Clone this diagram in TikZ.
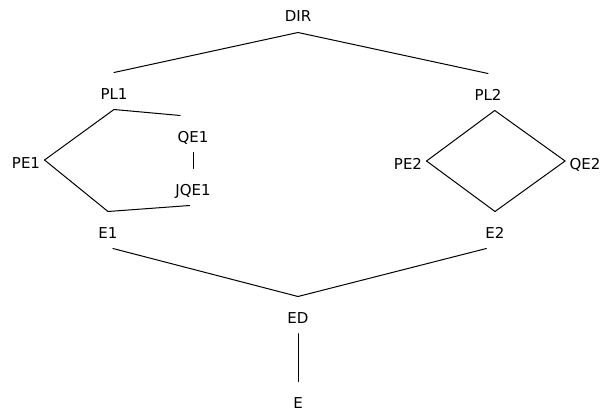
\documentclass[tikz,border=0pt]{standalone}
\usepackage{fontspec}
\setmainfont{DejaVu Sans}
\begin{document}
\begin{tikzpicture}[x=1pt,y=-1pt,line width=1pt,line cap=round,
	font=\fontsize{15}{18}\selectfont,
	elem/.style={anchor=base,inner xsep=4pt,inner ysep=0pt,text height=26pt,text depth=10pt}]
		\useasboundingbox (0,0) rectangle (607,412);
		% lattice elements, placed at their baselines
		\foreach \n/\t/\x/\y in {dir/DIR/298/22, pl1/PL1/114/99, pl2/PL2/488/100,
			pe1/PE1/26/168, qe1/QE1/193/142, jqe1/JQE1/193/195,
			pe2/PE2/408/169, qe2/QE2/585/169,
			e1/E1/108/238, e2/E2/495/238, ed/ED/298/323, e/E/298/408}
		\node[elem] (\n) at (\x,\y) {\t};
		% covering relations
		\foreach \a/\b in {dir.south/pl1.north, dir.south/pl2.north,
			pl1.south/pe1.east, pl1.south/qe1.125, qe1.south/jqe1.north,
			pe1.east/e1.north, jqe1.-100/e1.north,
			pl2.-70/pe2.east, pl2.-70/qe2.west, pe2.east/e2.north, qe2.west/e2.north,
			e1.-75/ed.north, e2.-115/ed.north, ed.south/e.north}
		\draw (\a) -- (\b);
	\end{tikzpicture}
\end{document}
